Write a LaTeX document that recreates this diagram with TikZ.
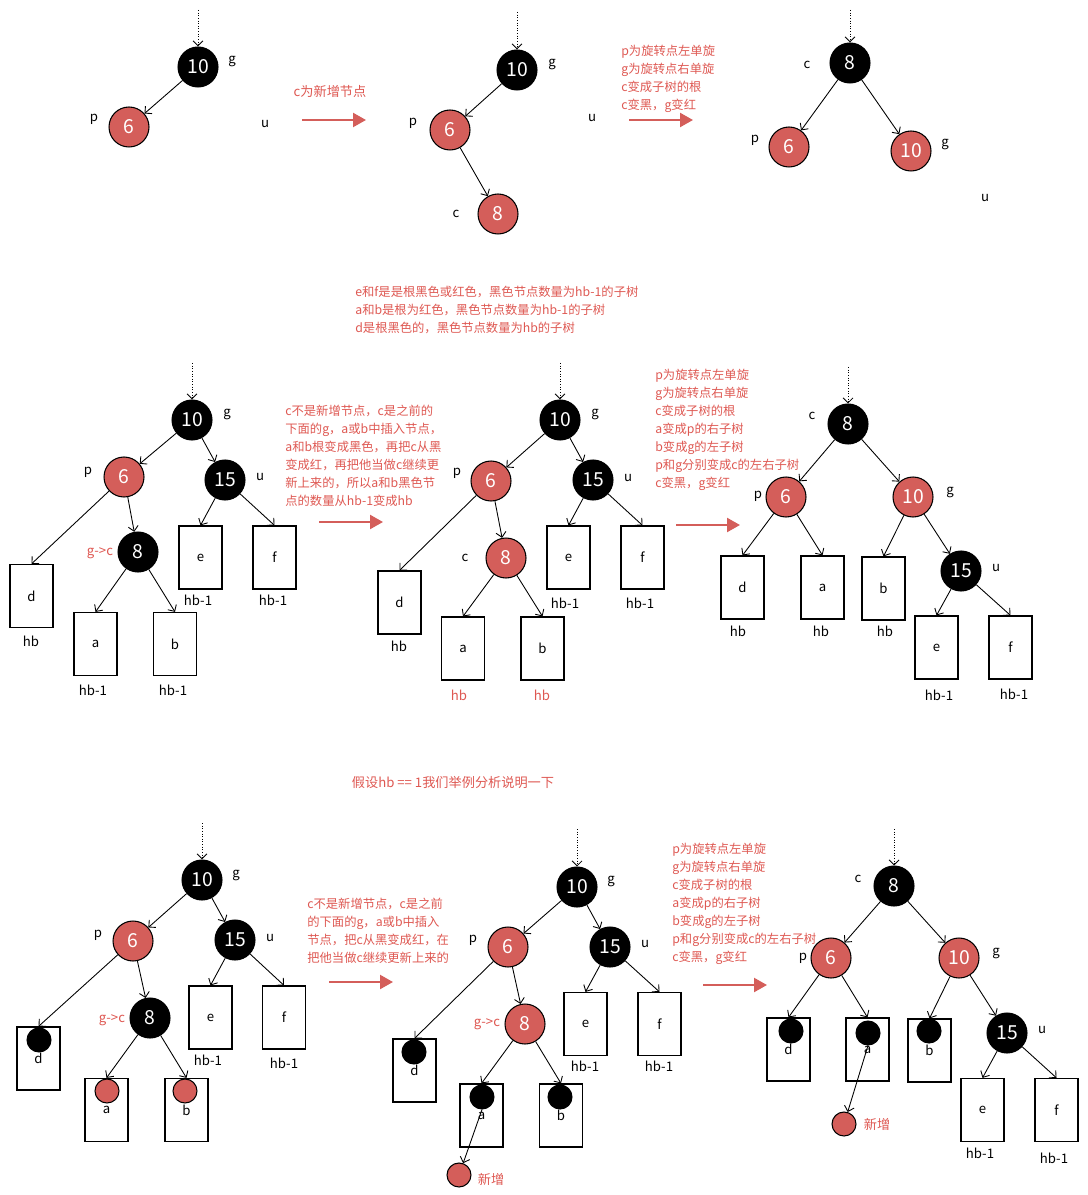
\documentclass[tikz,border=0pt]{standalone}
\usepackage{fontspec}
\setmainfont{Noto Sans CJK SC}
\usetikzlibrary{arrows.meta}
\definecolor{rbred}{RGB}{212,94,90}
\definecolor{rbtext}{RGB}{222,88,82}
\tikzset{
  blk/.style={circle,draw,line width=0.6pt,fill=black,text=white,minimum size=0.8cm,
              inner sep=0pt,font=\fontsize{11}{12}\selectfont},
  rd/.style={blk,fill=rbred},
  dot/.style={circle,draw,line width=0.6pt,fill=black,minimum size=0.48cm,inner sep=0pt},
  rdot/.style={dot,fill=rbred},
  sub/.style={draw,line width=0.7pt,minimum width=0.86cm,minimum height=1.26cm,
              inner sep=0pt,font=\fontsize{7.5}{9}\selectfont},
  lbl/.style={inner sep=1pt,font=\fontsize{7.5}{9}\selectfont},
  rlbl/.style={lbl,text=rbtext},
  note/.style={anchor=north west,align=left,inner sep=0pt,text=rbtext,
               font=\fontsize{7}{10.2}\selectfont},
  edge/.style={-{Straight Barb[length=1mm,width=2mm]},line width=0.5pt},
  dots/.style={edge,densely dotted},
  go/.style={-{Triangle[length=2.6mm,width=2.8mm]},line width=1.3pt,rbred}
}
\begin{document}
\begin{tikzpicture}[x=0.02cm,y=-0.02cm]
\useasboundingbox (0,0) rectangle (1087,1195);

% ---------------- row 1 ----------------
\node[blk] (g1) at (198,67) {10};
\node[rd] (p1) at (129,127) {6};
\coordinate (t1) at (198,10);
\node[lbl] (lg1) at (232,61) {g};
\node[lbl] (lp1) at (94,119) {p};
\node[lbl] (lu1) at (265,124) {u};
\draw[dots] (t1) -- (g1);
\draw[edge] (g1) -- (p1);

\node[rlbl] (n1) at (330,91) {c为新增节点};
\coordinate (a1s) at (302,120);
\coordinate (a1e) at (366,120);
\draw[go] (a1s) -- (a1e);

\node[blk] (g2) at (517,70) {10};
\node[rd] (p2) at (450,130) {6};
\node[rd] (c2) at (498,214) {8};
\coordinate (t2) at (517,12);
\node[lbl] (lg2) at (552,64) {g};
\node[lbl] (lp2) at (413,123) {p};
\node[lbl] (lu2) at (592,118) {u};
\node[lbl] (lc2) at (456,214) {c};
\draw[dots] (t2) -- (g2);
\draw[edge] (g2) -- (p2);
\draw[edge] (p2) -- (c2);

\node[note] (n2) at (621,45) {p为旋转点左单旋\\g为旋转点右单旋\\c变成子树的根\\c变黑，g变红};
\coordinate (a2s) at (629,120);
\coordinate (a2e) at (693,120);
\draw[go] (a2s) -- (a2e);

\node[blk] (c3) at (850,63) {8};
\node[rd] (p3) at (789,147) {6};
\node[rd] (g3) at (911,151) {10};
\coordinate (t3) at (850,10);
\node[lbl] (lc3) at (807,65) {c};
\node[lbl] (lp3) at (755,140) {p};
\node[lbl] (lg3) at (945,144) {g};
\node[lbl] (lu3) at (985,198) {u};
\draw[dots] (t3) -- (c3);
\draw[edge] (c3) -- (p3);
\draw[edge] (c3) -- (g3);

% ---------------- row 2 ----------------
\node[note] (n3) at (355,286) {e和f是是根黑色或红色，黑色节点数量为hb-1的子树\\a和b是根为红色，黑色节点数量为hb-1的子树\\d是根黑色的，黑色节点数量为hb的子树};

\node[blk] (g4) at (192,420) {10};
\node[rd] (p4) at (124,477) {6};
\node[blk] (u4) at (225,480) {15};
\node[blk] (c4) at (138,552) {8};
\coordinate (t4) at (192,363);
\node[lbl] (lg4) at (227,414) {g};
\node[lbl] (lp4) at (88,472) {p};
\node[lbl] (lu4) at (260,477) {u};
\node[rlbl] (lc4) at (100,553) {g->c};
\node[sub] (d4) at (31.5,596) {d};
\node[sub] (a4) at (95.5,644) {a};
\node[sub] (b4) at (175,644) {b};
\node[sub] (e4) at (200.5,557.5) {e};
\node[sub] (f4) at (274.5,557.5) {f};
\node[lbl] (hd4) at (31,641) {hb};
\node[lbl] (ha4) at (93,690) {hb-1};
\node[lbl] (hbb4) at (173,690) {hb-1};
\node[lbl] (he4) at (198,600) {hb-1};
\node[lbl] (hf4) at (273,600) {hb-1};
\draw[dots] (t4) -- (g4);
\draw[edge] (g4) -- (p4);
\draw[edge] (g4) -- (u4);
\draw[edge] (p4) -- (d4.north);
\draw[edge] (p4) -- (c4);
\draw[edge] (c4) -- (a4.north);
\draw[edge] (c4) -- (b4.north);
\draw[edge] (u4) -- (e4.north);
\draw[edge] (u4) -- (f4.north);

\node[note] (n4) at (285,405) {c不是新增节点，c是之前的\\下面的g，a或b中插入节点，\\a和b根变成黑色，再把c从黑\\变成红，再把他当做c继续更\\新上来的，所以a和b黑色节\\点的数量从hb-1变成hb};
\coordinate (a3s) at (319,522);
\coordinate (a3e) at (383,522);
\draw[go] (a3s) -- (a3e);

\node[blk] (g5) at (560,420) {10};
\node[rd] (p5) at (491,481) {6};
\node[blk] (u5) at (593,480) {15};
\node[rd] (c5) at (506,558) {8};
\coordinate (t5) at (560,363);
\node[lbl] (lg5) at (595,414) {g};
\node[lbl] (lp5) at (457,473) {p};
\node[lbl] (lu5) at (628,478) {u};
\node[lbl] (lc5) at (465,558) {c};
\node[sub] (d5) at (399.5,602.5) {d};
\node[sub] (a5) at (463,648.5) {a};
\node[sub] (b5) at (542.5,648.5) {b};
\node[sub] (e5) at (568.5,557.5) {e};
\node[sub] (f5) at (642.5,557.5) {f};
\node[lbl] (hd5) at (399,646) {hb};
\node[rlbl] (ha5) at (459,695) {hb};
\node[rlbl] (hbb5) at (542,695) {hb};
\node[lbl] (he5) at (565,603) {hb-1};
\node[lbl] (hf5) at (640,603) {hb-1};
\draw[dots] (t5) -- (g5);
\draw[edge] (g5) -- (p5);
\draw[edge] (g5) -- (u5);
\draw[edge] (p5) -- (d5.north);
\draw[edge] (p5) -- (c5);
\draw[edge] (c5) -- (a5.north);
\draw[edge] (c5) -- (b5.north);
\draw[edge] (u5) -- (e5.north);
\draw[edge] (u5) -- (f5.north);

\node[note] (n5) at (655,369) {p为旋转点左单旋\\g为旋转点右单旋\\c变成子树的根\\a变成p的右子树\\b变成g的左子树\\p和g分别变成c的左右子树\\c变黑，g变红};
\coordinate (a4s) at (676,525);
\coordinate (a4e) at (740,525);
\draw[go] (a4s) -- (a4e);

\node[blk] (c6) at (848,424) {8};
\node[rd] (p6) at (786,497) {6};
\node[rd] (g6) at (913,497) {10};
\node[blk] (u6) at (961,571) {15};
\coordinate (t6) at (848,367);
\node[lbl] (lc6) at (812,416) {c};
\node[lbl] (lp6) at (758,496) {p};
\node[lbl] (lg6) at (950,492) {g};
\node[lbl] (lu6) at (996,568) {u};
\node[sub] (d6) at (742.5,587.5) {d};
\node[sub] (a6) at (822.5,587.5) {a};
\node[sub] (b6) at (883.5,588.5) {b};
\node[sub] (e6) at (936.5,647.5) {e};
\node[sub] (f6) at (1010.5,647.5) {f};
\node[lbl] (hd6) at (738,631) {hb};
\node[lbl] (ha6) at (821,631) {hb};
\node[lbl] (hbb6) at (885,631) {hb};
\node[lbl] (he6) at (939,695) {hb-1};
\node[lbl] (hf6) at (1014,694) {hb-1};
\draw[dots] (t6) -- (c6);
\draw[edge] (c6) -- (p6);
\draw[edge] (c6) -- (g6);
\draw[edge] (p6) -- (d6.north);
\draw[edge] (p6) -- (a6.north);
\draw[edge] (g6) -- (b6.north);
\draw[edge] (g6) -- (u6);
\draw[edge] (u6) -- (e6.north);
\draw[edge] (u6) -- (f6.north);

% ---------------- row 3 ----------------
\node[rlbl] (n6) at (453,782) {假设hb == 1我们举例分析说明一下};

\node[blk] (g7) at (202,880) {10};
\node[rd] (p7) at (133,941) {6};
\node[blk] (u7) at (235,940) {15};
\node[blk] (c7) at (150,1018) {8};
\coordinate (t7) at (202,823);
\node[lbl] (lg7) at (236,875) {g};
\node[lbl] (lp7) at (98,935) {p};
\node[lbl] (lu7) at (270,938) {u};
\node[rlbl] (lc7) at (112,1020) {g->c};
\node[sub] (d7) at (38.5,1058.5) {d};
\node[sub] (a7) at (106.5,1110) {a};
\node[sub] (b7) at (186.5,1110) {b};
\node[sub] (e7) at (210.5,1017.5) {e};
\node[sub] (f7) at (284,1017.5) {f};
\node[dot] (kd7) at (39,1040) {};
\node[rdot] (ka7) at (107,1091) {};
\node[rdot] (kb7) at (185,1091) {};
\node[lbl] (he7) at (208,1060) {hb-1};
\node[lbl] (hf7) at (284,1063) {hb-1};
\draw[dots] (t7) -- (g7);
\draw[edge] (g7) -- (p7);
\draw[edge] (g7) -- (u7);
\draw[edge] (p7) -- (d7.north);
\draw[edge] (p7) -- (c7);
\draw[edge] (c7) -- (a7.north);
\draw[edge] (c7) -- (b7.north);
\draw[edge] (u7) -- (e7.north);
\draw[edge] (u7) -- (f7.north);

\node[note] (n7) at (307,898) {c不是新增节点，c是之前\\的下面的g，a或b中插入\\节点，把c从黑变成红，在\\把他当做c继续更新上来的};
\coordinate (a5s) at (329,982);
\coordinate (a5e) at (393,982);
\draw[go] (a5s) -- (a5e);

\node[blk] (g8) at (577,887) {10};
\node[rd] (p8) at (508,947) {6};
\node[blk] (u8) at (610,947) {15};
\node[rd] (c8) at (525,1024) {8};
\coordinate (t8) at (577,829);
\node[lbl] (lg8) at (611,881) {g};
\node[lbl] (lp8) at (473,940) {p};
\node[lbl] (lu8) at (645,944) {u};
\node[rlbl] (lc8) at (487,1024) {g->c};
\node[sub] (d8) at (414.5,1070.5) {d};
\node[sub] (a8) at (481.5,1115.5) {a};
\node[sub] (b8) at (561,1115.5) {b};
\node[sub] (e8) at (585.5,1024) {e};
\node[sub] (f8) at (659.5,1024) {f};
\node[dot] (kd8) at (414,1052) {};
\node[dot] (ka8) at (482,1097) {};
\node[dot] (kb8) at (560,1097) {};
\node[lbl] (he8) at (585,1066) {hb-1};
\node[lbl] (hf8) at (659,1066) {hb-1};
\node[rdot] (nw8) at (459,1175) {};
\node[rlbl] (lnw8) at (491,1179) {新增};
\draw[dots] (t8) -- (g8);
\draw[edge] (g8) -- (p8);
\draw[edge] (g8) -- (u8);
\draw[edge] (p8) -- (d8.north);
\draw[edge] (p8) -- (c8);
\draw[edge] (c8) -- (a8.north);
\draw[edge] (c8) -- (b8.north);
\draw[edge] (u8) -- (e8.north);
\draw[edge] (u8) -- (f8.north);
\draw[edge] (ka8.south) -- (nw8);

\node[note] (n8) at (672,843) {p为旋转点左单旋\\g为旋转点右单旋\\c变成子树的根\\a变成p的右子树\\b变成g的左子树\\p和g分别变成c的左右子树\\c变黑，g变红};
\coordinate (a6s) at (703,985);
\coordinate (a6e) at (767,985);
\draw[go] (a6s) -- (a6e);

\node[blk] (c9) at (894,886) {8};
\node[rd] (p9) at (831,958) {6};
\node[rd] (g9) at (959,958) {10};
\node[blk] (u9) at (1007,1033) {15};
\coordinate (t9) at (894,829);
\node[lbl] (lc9) at (858,879) {c};
\node[lbl] (lp9) at (803,958) {p};
\node[lbl] (lg9) at (996,953) {g};
\node[lbl] (lu9) at (1042,1030) {u};
\node[sub] (d9) at (788.5,1049.5) {d};
\node[sub] (a9) at (867.5,1049.5) {a};
\node[sub] (b9) at (929.5,1050.5) {b};
\node[sub] (e9) at (982.5,1110) {e};
\node[sub] (f9) at (1056.5,1110) {f};
\node[dot] (kd9) at (791,1031) {};
\node[dot] (ka9) at (868,1033) {};
\node[dot] (kb9) at (929,1031) {};
\node[lbl] (he9) at (980,1153) {hb-1};
\node[lbl] (hf9) at (1054,1158) {hb-1};
\node[rdot] (nw9) at (844,1124) {};
\node[rlbl] (lnw9) at (877,1124) {新增};
\draw[dots] (t9) -- (c9);
\draw[edge] (c9) -- (p9);
\draw[edge] (c9) -- (g9);
\draw[edge] (p9) -- (d9.north);
\draw[edge] (p9) -- (a9.north);
\draw[edge] (g9) -- (b9.north);
\draw[edge] (g9) -- (u9);
\draw[edge] (u9) -- (e9.north);
\draw[edge] (u9) -- (f9.north);
\draw[edge] (ka9.south) -- (nw9);
\end{tikzpicture}
\end{document}
